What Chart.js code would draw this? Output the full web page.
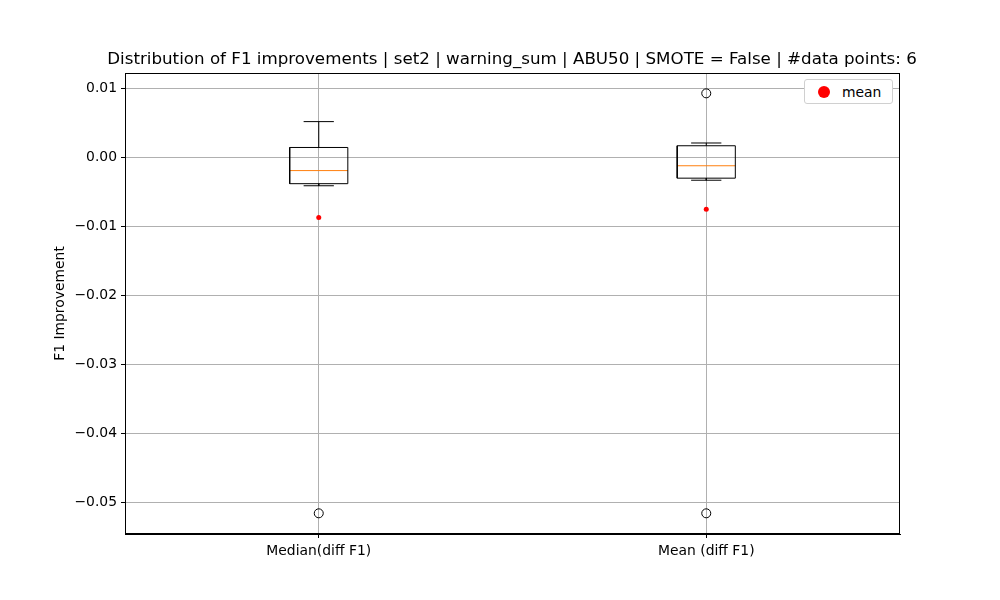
<!DOCTYPE html>
<html><head><meta charset="utf-8">
<script src="https://cdn.jsdelivr.net/npm/chart.js@4/dist/chart.umd.min.js"></script>
<style>body{margin:0;background:#fff}#w{position:relative;width:1000px;height:600px}
#lg{position:absolute;left:804px;top:79px;width:89px;height:25px;border:1px solid #d0d0d0;border-radius:3px;background:#fff;font:13.9px "DejaVu Sans";display:flex;align-items:center;box-sizing:border-box}
#lg span.d{display:inline-block;width:12px;height:12px;border-radius:50%;background:red;margin:0 12px 0 13px}</style>
</head><body><div id="w"><canvas id="c" width="1000" height="600"></canvas><div id="lg"><span class="d"></span>mean</div></div>
<script>
const categories=["Median(diff F1)","Mean (diff F1)"];
const q1=[-0.0038,-0.0030];
const q3=[0.00145,0.0017];
const medians=[-0.0019,-0.0012];
const whiskLo=[-0.0041,-0.0033];
const whiskHi=[0.0052,0.0021];
const means=[-0.0087,-0.0075];
const outliers=[[-0.0516],[0.0093,-0.0516]];
const title="Distribution of F1 improvements | set2 | warning_sum | ABU50 | SMOTE = False | #data points: 6";
const yTitle="F1 Improvement";

const bw=0.075,cw=0.039;
const boxPts=[],medPts=[],whPts=[],outPts=[],meanPts=[];
categories.forEach((c,i)=>{const x=i+1;
 boxPts.push({x:x-bw,y:q1[i]},{x:x+bw,y:q1[i]},{x:x+bw,y:q3[i]},{x:x-bw,y:q3[i]},{x:x-bw,y:q1[i]},{x:x,y:NaN});
 medPts.push({x:x-bw,y:medians[i]},{x:x+bw,y:medians[i]},{x:x,y:NaN});
 whPts.push({x:x,y:q3[i]},{x:x,y:whiskHi[i]},{x:x,y:NaN},{x:x-cw,y:whiskHi[i]},{x:x+cw,y:whiskHi[i]},{x:x,y:NaN},
  {x:x,y:q1[i]},{x:x,y:whiskLo[i]},{x:x,y:NaN},{x:x-cw,y:whiskLo[i]},{x:x+cw,y:whiskLo[i]},{x:x,y:NaN});
 outliers[i].forEach(v=>outPts.push({x:x,y:v}));
 meanPts.push({x:x,y:means[i]});
});
const ln=(d,col)=>({type:'line',data:d,borderColor:col,borderWidth:1,pointRadius:0,spanGaps:false,fill:false,tension:0});
const deco={id:'deco',afterDraw(ch){const g=ch.ctx,a=ch.chartArea;g.save();
 g.strokeStyle='#000';g.lineWidth=1;g.strokeRect(Math.round(a.left)+0.5,Math.round(a.top)+0.5,Math.round(a.right-a.left)-1,Math.round(a.bottom-a.top)-1);
 g.font='16.7px "DejaVu Sans"';g.fillStyle='#000';g.textAlign='center';g.fillText(title,512,64);
 g.font='13.9px "DejaVu Sans"';g.translate(64,(a.top+a.bottom)/2);g.rotate(-Math.PI/2);g.fillText(yTitle,0,0);
 g.restore();}};
new Chart(document.getElementById('c'),{
 data:{datasets:[ln(whPts,'#000'),ln(boxPts,'#000'),ln(medPts,'#ff7f0e'),
  {type:'scatter',data:outPts,pointRadius:4.5,pointBackgroundColor:'rgba(0,0,0,0)',pointBorderColor:'#000',pointBorderWidth:1},
  {type:'scatter',data:meanPts,pointRadius:2.5,pointBackgroundColor:'red',pointBorderColor:'red',pointBorderWidth:0,label:'mean'}]},
 options:{responsive:false,animation:false,layout:{padding:{top:73,right:100,left:0,bottom:0}},
  plugins:{legend:{display:false},tooltip:{enabled:false}},
  scales:{
   x:{type:'linear',min:0.5,max:2.5,afterBuildTicks:s=>{s.ticks=[{value:1},{value:2}]},
    afterFit:s=>{s.height=66},
    ticks:{callback:v=>categories[v-1],color:'#000',font:{family:'DejaVu Sans',size:13.9},padding:5},
    grid:{color:'#b0b0b0',tickColor:'#000',tickLength:4},border:{color:'#000'}},
   y:{min:-0.0546,max:0.01225,afterBuildTicks:s=>{s.ticks=[0.01,0,-0.01,-0.02,-0.03,-0.04,-0.05].map(v=>({value:v}))},
    afterFit:s=>{s.width=125},
    ticks:{callback:v=>(v<0?'\u2212':'')+Math.abs(v).toFixed(2),color:'#000',font:{family:'DejaVu Sans',size:13.9},padding:4},
    grid:{color:'#b0b0b0',tickColor:'#000',tickLength:4},border:{color:'#000'}}}},
 plugins:[deco]});
</script></body></html>
